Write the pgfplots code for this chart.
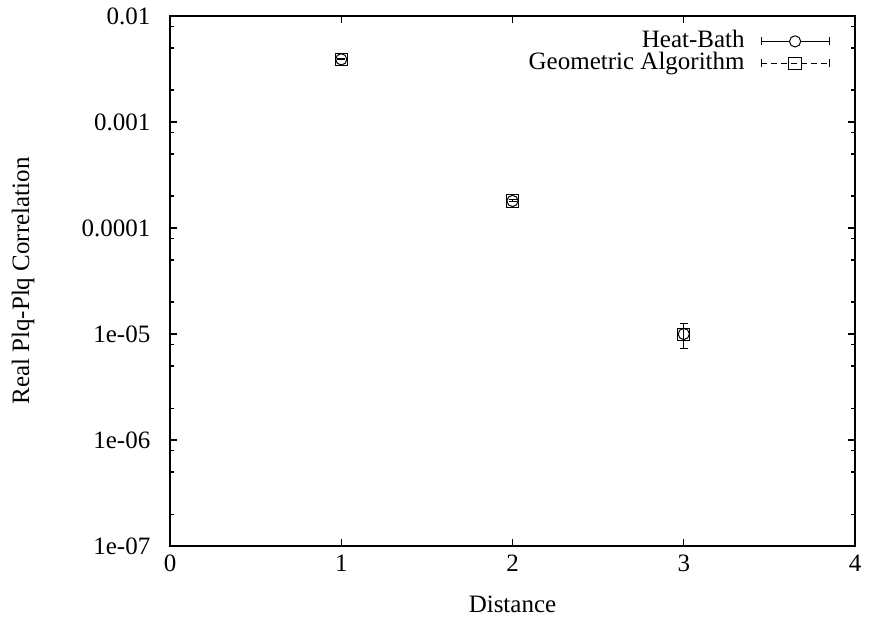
\documentclass[border=0pt]{standalone}
\usepackage{fontspec}
\setmainfont{Liberation Serif}
\usepackage{pgfplots}
\pgfplotsset{compat=1.18}
\begin{document}
\fontsize{12.5}{15}\selectfont
\begin{tikzpicture}
\begin{axis}[
  scale only axis, width=342.5pt, height=265pt,
  ymode=log, xmin=0, xmax=4, ymin=1e-7, ymax=1e-2,
  xtick={0,1,2,3,4}, xticklabels={0,1,2,3,4},
  ytick={1e-7,1e-6,1e-5,1e-4,1e-3,1e-2},
  yticklabels={1e-07,1e-06,1e-05,0.0001,0.001,0.01},
  minor ytick={2e-7,5e-7,8e-7,2e-6,5e-6,8e-6,2e-5,5e-5,8e-5,2e-4,5e-4,8e-4,2e-3,5e-3,8e-3},
  minor xtick={},
  tick align=inside,
  major tick length=3.5pt, minor tick length=2pt,
  axis line style={line width=0.8pt},
  every tick/.style={black, line width=0.6pt},
  yticklabel style={xshift=-5.5pt},
  xlabel={Distance}, ylabel={Real Plq-Plq Correlation},
  every axis x label/.style={at={(axis description cs:0.5,-0.126)}, anchor=base},
  every axis y label/.style={at={(axis description cs:-0.2146,0.5)}, rotate=90, anchor=center},
  legend plot pos=right, legend cell align=right,
  legend style={at={(rel axis cs:1,1)}, anchor=north east, xshift=-12.5pt, yshift=-7pt,
    draw=none, fill=none, inner sep=0pt, column sep=8pt, row sep=0pt,
    nodes={inner sep=0pt, text height=8.5pt, text depth=2.5pt}},
]
\addplot[black, only marks, mark=o, mark size=2.8pt, line width=0.5pt,
  error bars/.cd, y dir=both, y explicit,
  error bar style={line width=0.5pt, black},
  error mark options={rotate=90, mark size=2pt, line width=0.5pt, black},
  /pgfplots/legend image code/.code={
    \draw[line width=0.5pt] (0pt,0pt) -- (34pt,0pt);
    \draw[line width=0.5pt] (0pt,-2pt) -- (0pt,2pt);
    \draw[line width=0.5pt] (34pt,-2pt) -- (34pt,2pt);
    \draw[line width=0.5pt, fill=white] (17pt,0pt) circle (2.8pt);
  }]
  coordinates {(1,0.0039) +- (0,0.00005) (2,1.8e-4) +- (0,4e-6) (3,1.0e-5) +- (0,2.7e-6)};
\addlegendentry{Heat-Bath}
\addplot[black, only marks, mark=square, mark size=3.1pt, line width=0.5pt,
  error bars/.cd, y dir=both, y explicit,
  error bar style={line width=0.5pt, black, dash pattern=on 2pt off 1.5pt},
  error mark options={rotate=90, mark size=2pt, line width=0.5pt, black, solid},
  /pgfplots/legend image code/.code={
    \draw[line width=0.5pt, dash pattern=on 3pt off 2pt] (0pt,0pt) -- (34pt,0pt);
    \draw[line width=0.5pt] (0pt,-2pt) -- (0pt,2pt);
    \draw[line width=0.5pt] (34pt,-2pt) -- (34pt,2pt);
    \draw[line width=0.5pt] (13.9pt,-3.1pt) rectangle (20.1pt,3.1pt);
  }]
  coordinates {(1,0.0039) +- (0,0.00005) (2,1.8e-4) +- (0,4e-6) (3,0.99e-5) +- (0,2.6e-6)};
\addlegendentry{Geometric Algorithm}
\end{axis}
\pgfresetboundingbox
\path (current axis.south west) ++(-85pt,-36.5pt) rectangle ++(435pt,309.5pt);
\end{tikzpicture}
\end{document}
